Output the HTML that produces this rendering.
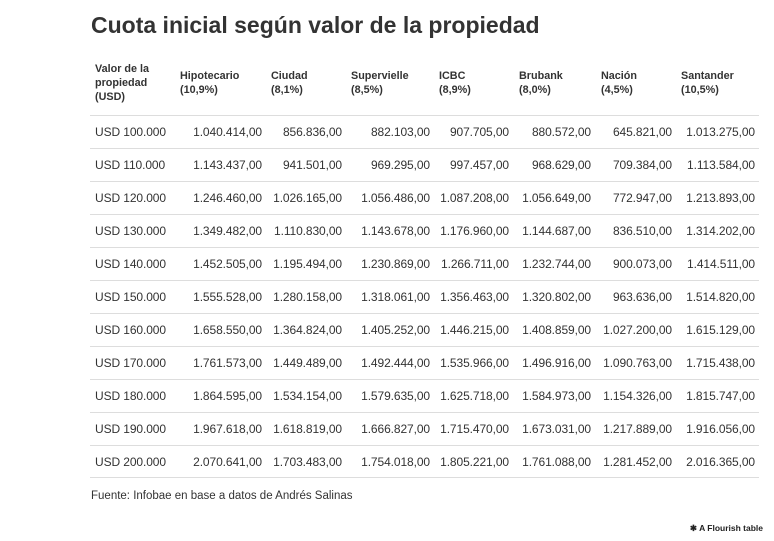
<!DOCTYPE html>
<html><head><meta charset="utf-8"><style>
body{margin:0;width:774px;height:541px;background:#fff;font-family:"Liberation Sans",sans-serif;color:#333;position:relative;overflow:hidden}
h1{position:absolute;left:91px;top:12px;margin:0;font-size:23px;font-weight:bold;color:#333;letter-spacing:0px}
.h{position:absolute;font-size:10.8px;font-weight:bold;line-height:14px;color:#333}
.row{position:absolute;left:90px;width:669px;height:32px;border-top:1px solid #ddd}
.c{position:absolute;top:9px;font-size:12px;line-height:14px;white-space:nowrap;color:#333;letter-spacing:-0.1px}
.r{text-align:right}
.src{position:absolute;left:91px;top:490px;font-size:11.5px;color:#333}
.fl{position:absolute;right:11px;top:523px;font-size:8.5px;font-weight:bold;color:#222}
</style></head><body>
<h1>Cuota inicial según valor de la propiedad</h1>
<div class="h" style="left:95px;top:62px">Valor de la<br>propiedad<br>(USD)</div>
<div class="h" style="left:180px;top:69px">Hipotecario<br>(10,9%)</div>
<div class="h" style="left:271px;top:69px">Ciudad<br>(8,1%)</div>
<div class="h" style="left:351px;top:69px">Supervielle<br>(8,5%)</div>
<div class="h" style="left:439px;top:69px">ICBC<br>(8,9%)</div>
<div class="h" style="left:519px;top:69px">Brubank<br>(8,0%)</div>
<div class="h" style="left:601px;top:69px">Nación<br>(4,5%)</div>
<div class="h" style="left:681px;top:69px">Santander<br>(10,5%)</div>
<div id="rows"></div>
<div class="row" style="top:477px;height:0"></div>
<div class="src">Fuente: Infobae en base a datos de Andrés Salinas</div>
<div class="fl">✱ A Flourish table</div>
<script>
var d=[
["USD 100.000","1.040.414,00","856.836,00","882.103,00","907.705,00","880.572,00","645.821,00","1.013.275,00"],
["USD 110.000","1.143.437,00","941.501,00","969.295,00","997.457,00","968.629,00","709.384,00","1.113.584,00"],
["USD 120.000","1.246.460,00","1.026.165,00","1.056.486,00","1.087.208,00","1.056.649,00","772.947,00","1.213.893,00"],
["USD 130.000","1.349.482,00","1.110.830,00","1.143.678,00","1.176.960,00","1.144.687,00","836.510,00","1.314.202,00"],
["USD 140.000","1.452.505,00","1.195.494,00","1.230.869,00","1.266.711,00","1.232.744,00","900.073,00","1.414.511,00"],
["USD 150.000","1.555.528,00","1.280.158,00","1.318.061,00","1.356.463,00","1.320.802,00","963.636,00","1.514.820,00"],
["USD 160.000","1.658.550,00","1.364.824,00","1.405.252,00","1.446.215,00","1.408.859,00","1.027.200,00","1.615.129,00"],
["USD 170.000","1.761.573,00","1.449.489,00","1.492.444,00","1.535.966,00","1.496.916,00","1.090.763,00","1.715.438,00"],
["USD 180.000","1.864.595,00","1.534.154,00","1.579.635,00","1.625.718,00","1.584.973,00","1.154.326,00","1.815.747,00"],
["USD 190.000","1.967.618,00","1.618.819,00","1.666.827,00","1.715.470,00","1.673.031,00","1.217.889,00","1.916.056,00"],
["USD 200.000","2.070.641,00","1.703.483,00","1.754.018,00","1.805.221,00","1.761.088,00","1.281.452,00","2.016.365,00"]];
var rights=[262,342,430,509,591,672,755],h="";
d.forEach(function(r,i){
 h+='<div class="row" style="top:'+(115+33*i)+'px"><div class="c" style="left:5px">'+r[0]+'</div>';
 for(var j=1;j<8;j++)h+='<div class="c r" style="right:'+(759-rights[j-1])+'px">'+r[j]+'</div>';
 h+='</div>';
});
document.getElementById('rows').innerHTML=h;
</script>
</body></html>
